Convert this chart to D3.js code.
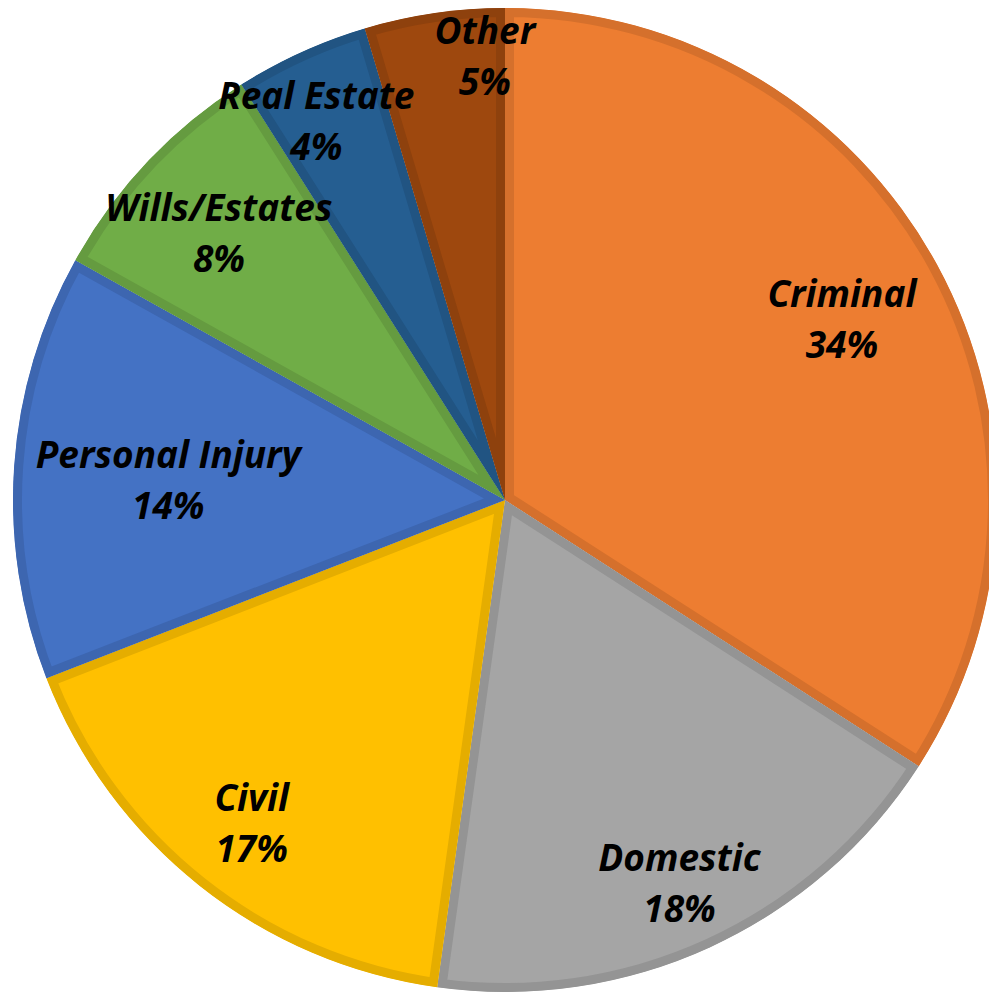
<!DOCTYPE html>
<html>
<head>
<meta charset="utf-8">
<script src="https://cdn.jsdelivr.net/npm/d3@7"></script>
<style>
  html, body { margin: 0; padding: 0; background: #fff; overflow: hidden; }
  .label { font-family: "Open Sans", Lato, sans-serif; font-weight: 700; font-style: italic; fill: #000; }
</style>
</head>
<body>
<div id="chart-container"></div>
<script>
// case types, share of caseload (%)
const categories = ["Criminal", "Domestic", "Civil", "Personal Injury", "Wills/Estates", "Real Estate", "Other"];
const shares = [34.1, 18.1, 16.9, 14.0, 7.9, 4.4, 4.6];
const sliceColors = ["#ED7D31", "#A5A5A5", "#FFC000", "#4472C4", "#70AD47", "#255E91", "#9E480E"];

// where each label sits: fraction of radius, and a small angle nudge (degrees)
const labelRadius = [0.78, 0.85, 0.83, 0.686, 0.80, 0.866, 0.909];
const labelNudge = [0, 0, 0, 0, 0, -1.8, 5.7];

const data = categories.map((c, i) => ({name: c, value: shares[i], color: sliceColors[i], i}));

const width = 989, height = 995;
const cx = 505, cy = 500, radius = 492;
const total = d3.sum(shares);

const svg = d3.select("#chart-container").append("svg")
    .attr("width", width)
    .attr("height", height);

const g = svg.append("g").attr("transform", `translate(${cx}, ${cy})`);

const pie = d3.pie().value(d => d.value).sort(null);
const arc = d3.arc().innerRadius(0).outerRadius(radius);
const arcs = pie(data);

const defs = svg.append("defs");
arcs.forEach((d, i) => {
    defs.append("clipPath").attr("id", "clip" + i)
        .append("path").attr("d", arc(d));
});

// slices with a darker band on the inside of their outline
g.selectAll(".slice")
    .data(arcs)
    .enter().append("path")
    .attr("class", "slice")
    .attr("d", arc)
    .attr("clip-path", (d, i) => `url(#clip${i})`)
    .attr("fill", d => d.data.color)
    .attr("stroke", d => d3.color(d.data.color).darker(0.3))
    .attr("stroke-width", 18)
    .attr("stroke-linejoin", "miter");

// labels
const labels = g.selectAll(".label")
    .data(arcs)
    .enter().append("text")
    .attr("class", "label")
    .attr("text-anchor", "middle")
    .style("font-size", "37px")
    .attr("transform", (d, i) => {
        const a = (d.startAngle + d.endAngle) / 2 + labelNudge[i] * Math.PI / 180;
        const r = radius * labelRadius[i];
        return `translate(${r * Math.sin(a)}, ${-r * Math.cos(a)})`;
    });

labels.append("tspan")
    .attr("x", 0)
    .attr("y", -9)
    .text(d => d.data.name);

labels.append("tspan")
    .attr("x", 0)
    .attr("y", 42)
    .text(d => Math.round(d.data.value / total * 100) + "%");
</script>
</body>
</html>
